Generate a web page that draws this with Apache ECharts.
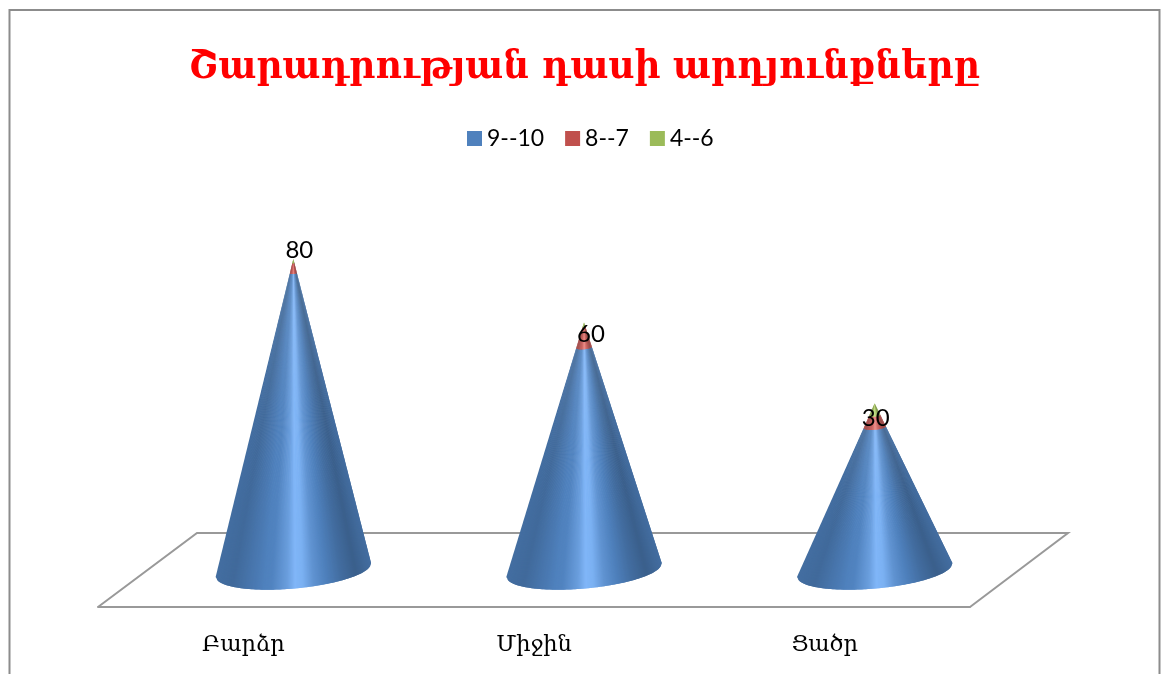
<!doctype html>
<html>
<head>
<meta charset="utf-8">
<title>chart</title>
<script src="https://cdn.jsdelivr.net/npm/echarts@6/dist/echarts.min.js"></script>
<style type="text/css">
	html,body{margin:0;padding:0;background:#fff;}
	#chart{width:1168px;height:674px;overflow:hidden;}
</style>
</head>
<body>
<div id="chart"></div>
<script type="text/javascript">
var titleText = 'Շարադրության դասի արդյունքները';
var categories = ['Բարձր', 'Միջին', 'Ցածր'];
var seriesNames = ['9--10', '8--7', '4--6'];
var values1 = [80, 60, 38.5];
var values2 = [2.7, 5.4, 3.2];
var values3 = [1.1, 1.3, 3.2];
var dataLabels = ['80', '60', '30'];

// horizontal shading of the cone, left edge -> right edge. above 1 it goes to the light colour
var shadeStops = [
	[0, 0.85], [0.1, 0.82], [0.25, 0.95], [0.35, 1.05], [0.45, 1.55], [0.5, 2], [0.55, 1.9],
	[0.62, 1.35], [0.7, 1], [0.8, 0.85], [0.9, 0.74], [1, 0.85]
];
var baseColors = [[79, 129, 189], [192, 80, 77], [155, 187, 89]];
var lightColors = [[128, 182, 248], [235, 130, 125], [195, 225, 130]];
var labelShift = [[6, -9], [7, 12], [1, 15]];

var chart = echarts.init(document.getElementById('chart'));

function shade(u, k0){
	var k = 1;
	for (var i = 1; i < shadeStops.length; i++) {
		if (u <= shadeStops[i][0]) {
			var a = shadeStops[i - 1], b = shadeStops[i];
			k = a[1] + (b[1] - a[1]) * (u - a[0]) / (b[0] - a[0]);
			break;
		}
	}
	var base = baseColors[k0], light = lightColors[k0];
	var rgb = base.map(function(c, j){
		return Math.round(k > 1 ? c + (light[j] - c) * (k - 1) : c * k);
	});
	return 'rgb(' + rgb.join(',') + ')';
}

// one stacked cone slice, made of thin strips running towards the tip
function coneItem(seriesIndex){
	return function(params, api){
		var i = params.dataIndex;
		var total = values1[i] + values2[i] + values3[i];
		var before = [0, values1[i], values1[i] + values2[i]][seriesIndex];
		var own = [values1, values2, values3][seriesIndex][i];
		var foot = api.coord([i, 0]);
		var tip = api.coord([i, total]);
		var cx = foot[0] + 50, cy = foot[1] - 37;
		var tx = cx, ty = tip[1] - 37;
		var rx = 78, ry = 18.5, rot = -0.09;
		var t0 = before / total, t1 = (before + own) / total;
		function pt(t, ang){
			var ex = rx * Math.cos(ang), ey = ry * Math.sin(ang);
			var x = ex * Math.cos(rot) - ey * Math.sin(rot);
			var y = ex * Math.sin(rot) + ey * Math.cos(rot);
			return [cx + (tx - cx) * t + x * (1 - t), cy + (ty - cy) * t + y * (1 - t)];
		}
		function angle(u){ return Math.acos(Math.max(-1, Math.min(1, 2 * u - 1))); }
		var n = 156, kids = [];
		for (var s = 0; s < n; s++) {
			var a0 = angle(s / n);
			// each strip runs under the next one, so no seams show
			var a1 = angle((s + 2) / n);
			var c = shade((s + 0.5) / n, seriesIndex);
			kids.push({
				type: 'polygon',
				shape: {points: [pt(t0, a0), pt(t0, a1), pt(t1, a1), pt(t1, a0)]},
				style: {fill: c}
			});
		}
		if (seriesIndex === 2) {
			kids.push({
				type: 'text',
				z2: 50,
				style: {
					text: dataLabels[i],
					x: tx + labelShift[i][0],
					y: ty + labelShift[i][1],
					align: 'center',
					verticalAlign: 'middle',
					fill: '#000',
					font: '24px Lato'
				}
			});
		}
		return {type: 'group', children: kids};
	};
}

var option = {
	animation: false,
	backgroundColor: '#fff',
	title: {
		text: titleText,
		left: 'center',
		top: 43,
		textStyle: {color: '#ff0000', fontFamily: 'DejaVu Serif Condensed', fontWeight: 'bold', fontSize: 40}
	},
	legend: {
		data: seriesNames,
		left: 462,
		top: 122,
		icon: 'rect',
		itemWidth: 15,
		itemHeight: 15,
		itemGap: 21,
		textStyle: {color: '#000', fontFamily: 'Lato', fontSize: 23}
	},
	grid: {left: 98, right: 198, top: 236, bottom: 67},
	xAxis: {
		type: 'category',
		data: categories,
		axisLine: {lineStyle: {color: '#999999', width: 2}},
		axisTick: {show: false},
		axisLabel: {color: '#000', fontFamily: 'DejaVu Serif', fontSize: 22.5, margin: 27}
	},
	yAxis: {type: 'value', min: 0, max: 100, show: false},
	graphic: [
		{type: 'rect', shape: {x: 9.5, y: 10, width: 1150, height: 700}, style: {fill: 'none', stroke: '#8c8c8c', lineWidth: 2}},
		{type: 'polyline', shape: {points: [[98, 607], [197, 533], [1068, 533], [970, 607]]}, style: {fill: 'none', stroke: '#999999', lineWidth: 2}}
	],
	series: seriesNames.map(function(name, k){
		return {
			name: name,
			type: 'custom',
			coordinateSystem: 'cartesian2d',
			itemStyle: {color: 'rgb(' + baseColors[k].join(',') + ')'},
			clip: false,
			z: 3 + k,
			renderItem: coneItem(k),
			encode: {x: 0, y: 1},
			data: categories.map(function(c, i){ return [i, [values1, values2, values3][k][i]]; })
		};
	})
};
chart.setOption(option);
</script>
</body>
</html>
